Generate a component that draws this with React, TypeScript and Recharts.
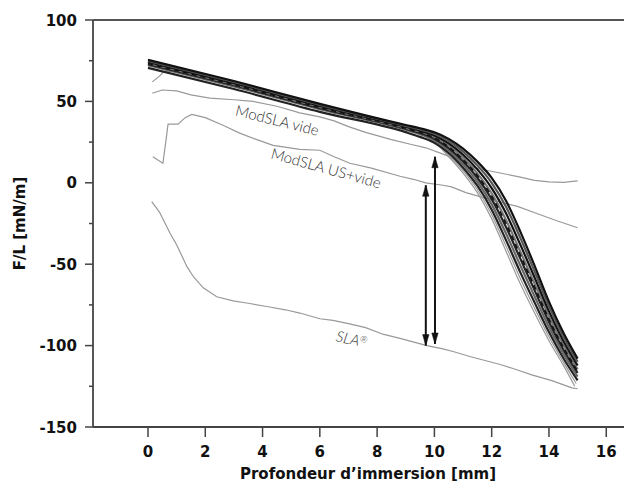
import React from 'react';
import { ComposedChart, Line, Scatter, XAxis, YAxis, ReferenceLine } from 'recharts';

type P = [number, number];
const pts = (a: P[]) => a.map(([x, y]) => ({ x, y }));

const xTicks = [0, 2, 4, 6, 8, 10, 12, 14, 16];
const yTicks = [-150, -125, -100, -75, -50, -25, 0, 25, 50, 75, 100];

const modSlaVide: P[] = [
  [0.15, 55], [0.5, 57], [1, 56.5], [1.5, 54], [2.16, 52], [3, 51], [3.67, 50], [4.5, 47], [5.3, 43],
  [6, 40.5], [6.5, 38], [7, 34.5], [7.6, 31], [8.5, 26.5], [9.2, 23.5], [9.7, 21.5], [10.4, 17],
  [11.1, 11], [11.7, 8], [12.3, 6], [13, 3.5], [13.5, 1.5], [14, 0.6], [14.5, 0.3], [15, 1.2],
];
const modSlaUsVide: P[] = [
  [0.17, 16], [0.52, 12], [0.62, 25], [0.7, 36], [1.05, 36], [1.3, 40], [1.53, 42], [2, 40],
  [2.6, 35.5], [3.2, 30.5], [3.8, 26.5], [4.37, 23], [5.3, 20.5], [6, 20], [6.5, 16], [7.05, 12],
  [7.8, 9], [8.8, 4], [9.3, 2], [9.7, 0], [10.3, -1.5], [10.6, -2.5], [11.1, -6], [12, -10.5],
  [12.9, -14.5], [13.6, -19], [14.3, -23.5], [15, -27.6],
];
const sla: P[] = [
  [0.13, -11.5], [0.4, -18], [0.77, -31], [1.0, -38], [1.36, -51.5], [1.6, -58], [1.93, -64.5],
  [2.4, -70], [2.97, -72.5], [3.5, -74], [4.15, -76], [4.8, -78], [5.3, -80], [6, -83.5],
  [6.46, -84.5], [7, -86.5], [7.6, -89], [8.2, -93], [8.8, -95.6], [9.74, -100], [10.3, -102],
  [10.65, -103.6], [11.3, -107], [12.3, -111.6], [12.9, -115], [13.4, -118], [14.1, -121.5],
  [14.8, -126], [15, -126.5],
];

const bundleA: P[] = [[0, 75.5], [3, 62.5], [6, 48.5], [9, 35.5], [9.5, 33.5], [10, 31], [10.5, 27], [11, 21], [11.5, 13], [12, 3], [12.5, -11], [13, -30], [13.5, -51], [14, -73], [14.5, -92], [15, -108]];
const bundleB: P[] = [[0, 74.9], [3, 61.9], [6, 47.9], [9, 35], [9.5, 32.8], [10, 30.1], [10.5, 25.7], [11, 19.2], [11.5, 10.7], [12, 0], [12.5, -14.7], [13, -33.8], [13.5, -54.5], [14, -75.9], [14.5, -94.4], [15, -110]];
const bundleC: P[] = [[0, 74.25], [3, 61.25], [6, 47.25], [9, 34.4], [9.5, 32.1], [10, 29.1], [10.5, 24.25], [11, 17.25], [11.5, 8.25], [12, -3.25], [12.5, -18.75], [13, -38], [13.5, -58.25], [14, -79], [14.5, -97], [15, -112.25]];
const bundleD: P[] = [[0, 73.6], [3, 60.6], [6, 46.6], [9, 33.8], [9.5, 31.4], [10, 28.2], [10.5, 22.8], [11, 15.3], [11.5, 5.8], [12, -6.5], [12.5, -22.8], [13, -42.2], [13.5, -62], [14, -82.1], [14.5, -99.6], [15, -114.5]];
const bundleE: P[] = [[0, 72.9], [3, 59.9], [6, 45.9], [9, 33.2], [9.5, 30.6], [10, 27.1], [10.5, 21.3], [11, 13.2], [11.5, 3.1], [12, -10], [12.5, -27.1], [13, -46.6], [13.5, -66.1], [14, -85.5], [14.5, -102.4], [15, -116.8]];
const bundleF: P[] = [[0, 72.25], [3, 59.25], [6, 45.25], [9, 32.6], [9.5, 29.9], [10, 26.1], [10.5, 19.9], [11, 11.25], [11.5, 0.65], [12, -13.25], [12.5, -31.15], [13, -50.8], [13.5, -69.85], [14, -88.6], [14.5, -105], [15, -119]];
const bundleG: P[] = [[0, 70.6], [3, 57.6], [6, 43.6], [9, 31.1], [9.5, 28.2], [10, 24.6], [10.5, 18.4], [11, 9.3], [11.5, -1.8], [12, -16.5], [12.5, -35.2], [13, -55], [13.5, -73.6], [14, -91.7], [14.5, -107.6], [15, -121.3]];
const bundleH: P[] = [[0.15, 62], [0.4, 65.5], [0.6, 68.6], [3, 59.5], [6, 45.5], [9, 32.8], [9.5, 30.2], [10, 25], [10.5, 17.1], [11, 7.5], [11.5, -4.1], [12, -19.5], [12.5, -38.9], [13, -58.8], [13.5, -77.1], [14, -94.6], [14.5, -110], [14.95, -123.3]];
const bundleI: P[] = [[0, 72.75], [3, 59.75], [6, 45.75], [9, 33], [9.5, 30.5], [10, 25], [10.5, 16], [11, 6], [11.5, -6], [12, -22], [12.5, -42], [13, -62], [13.5, -80], [14, -97], [14.5, -112], [14.9, -125]];
const bundleDashed: P[] = [[0, 73.25], [3, 60.25], [6, 46.25], [9, 33.5], [9.5, 31], [10, 27.6], [10.5, 22], [11, 14.25], [11.5, 4.45], [12, -8.25], [12.5, -25], [13, -44.4], [13.5, -64], [14, -83.8], [14.5, -101], [15, -115.65]];

const arrowUs: P[] = [[9.7, -100], [9.7, -1.5]];
const arrowVide: P[] = [[10.02, -99], [10.02, 16]];

const annText = ['ModSLA vide', 'ModSLA US+vide', 'SLA'];
const annX = [4.5, 6.2, 7.1];
const annY = [37.4, 8, -97];
const annAngle = [14, 15.5, 12];

const annData = annText.map((t, i) => ({ x: annX[i], y: annY[i], t, a: annAngle[i], i }));

const TICK_FONT = '"DejaVu Sans", sans-serif';

const YTick = (props: any) => {
  const { x, y, payload } = props;
  const major = payload.value % 50 === 0;
  return (
    <g>
      <line x1={x - (major ? 8 : 4)} x2={x} y1={y} y2={y} stroke="#444" strokeWidth={1.5} />
      {major && (
        <text x={x - 16} y={y} dy={5.5} textAnchor="end" fontFamily={TICK_FONT} fontWeight="bold" fontSize={15} fill="#111">
          {payload.value}
        </text>
      )}
    </g>
  );
};

const XTick = (props: any) => {
  const { x, y, payload } = props;
  return (
    <g>
      <line x1={x} x2={x} y1={y} y2={y + 10} stroke="#444" strokeWidth={1.5} />
      <text x={x} y={y + 30} textAnchor="middle" fontFamily={TICK_FONT} fontWeight="bold" fontSize={15} fill="#111">
        {payload.value}
      </text>
    </g>
  );
};

const arrowDot = (props: any) => {
  const { cx, cy, index } = props;
  if (cx == null || cy == null) return <g key={index} />;
  const dir = index === 0 ? -1 : 1;
  const len = 11;
  const hw = 3.2;
  const d = `M${cx},${cy} L${cx - hw},${cy + dir * len} L${cx + hw},${cy + dir * len} Z`;
  return <path key={index} d={d} fill="#111" stroke="#111" strokeWidth={0.5} />;
};

const annShape = (props: any) => {
  const { cx, cy, payload } = props;
  const isSla = payload.i === 2;
  return (
    <text
      x={cx}
      y={cy}
      textAnchor="middle"
      dominantBaseline="middle"
      transform={`rotate(${payload.a} ${cx} ${cy})`}
      fontFamily='Lato, "Noto Sans", sans-serif'
      fontWeight={300}
      fontStyle={isSla ? 'italic' : 'normal'}
      fontSize={15}
      fill="#333"
    >
      {payload.t}
      {isSla && (
        <tspan fontSize={9} dy={-3}>
          ®
        </tspan>
      )}
    </text>
  );
};

const darkW = 2.2;
const grayW = 1.2;

export default function App() {
  return (
    <div style={{ position: 'absolute', left: 0, top: 0, width: 624, height: 488, background: '#fff' }}>
      <ComposedChart width={624} height={488} margin={{ top: 20, right: 0, bottom: 0, left: 0 }}>
        <XAxis
          type="number"
          dataKey="x"
          domain={[-1.92, 16.62]}
          ticks={xTicks}
          allowDataOverflow
          height={61}
          tickSize={0}
          tickMargin={0}
          tick={<XTick />}
          axisLine={{ stroke: '#444', strokeWidth: 1.8 }}
          tickLine={false}
          interval={0}
          label={{
            content: () => (
              <text x={368} y={479} textAnchor="middle" fontFamily={TICK_FONT} fontWeight="bold" fontSize={15} fill="#111">
                Profondeur d’immersion [mm]
              </text>
            ),
          }}
        />
        <YAxis
          type="number"
          dataKey="y"
          domain={[-150, 100]}
          ticks={yTicks}
          allowDataOverflow
          width={93}
          tickSize={0}
          tickMargin={0}
          tick={<YTick />}
          axisLine={{ stroke: '#444', strokeWidth: 1.8 }}
          tickLine={false}
          interval={0}
          label={{
            content: () => (
              <text
                x={24.5}
                y={223.5}
                textAnchor="middle"
                transform="rotate(-90 24.5 223.5)"
                fontFamily={TICK_FONT}
                fontWeight="bold"
                fontSize={15}
                fill="#111"
              >
                F/L [mN/m]
              </text>
            ),
          }}
        />
        <ReferenceLine y={100} stroke="#555" strokeWidth={1.8} />

        <Line data={pts(modSlaVide)} dataKey="y" type="linear" stroke="#999" strokeWidth={grayW} dot={false} isAnimationActive={false} />
        <Line data={pts(modSlaUsVide)} dataKey="y" type="linear" stroke="#999" strokeWidth={grayW} dot={false} isAnimationActive={false} />
        <Line data={pts(sla)} dataKey="y" type="linear" stroke="#999" strokeWidth={grayW} dot={false} isAnimationActive={false} />

        <Line data={pts(bundleI)} dataKey="y" type="monotone" stroke="#999" strokeWidth={grayW} dot={false} isAnimationActive={false} />
        <Line data={pts(bundleH)} dataKey="y" type="monotone" stroke="#999" strokeWidth={grayW} dot={false} isAnimationActive={false} />
        <Line data={pts(bundleG)} dataKey="y" type="monotone" stroke="#222" strokeWidth={darkW} dot={false} isAnimationActive={false} />
        <Line data={pts(bundleF)} dataKey="y" type="monotone" stroke="#666" strokeWidth={darkW} dot={false} isAnimationActive={false} />
        <Line data={pts(bundleE)} dataKey="y" type="monotone" stroke="#222" strokeWidth={darkW} dot={false} isAnimationActive={false} />
        <Line data={pts(bundleD)} dataKey="y" type="monotone" stroke="#777" strokeWidth={darkW} dot={false} isAnimationActive={false} />
        <Line data={pts(bundleC)} dataKey="y" type="monotone" stroke="#111" strokeWidth={darkW} dot={false} isAnimationActive={false} />
        <Line data={pts(bundleB)} dataKey="y" type="monotone" stroke="#555" strokeWidth={darkW} dot={false} isAnimationActive={false} />
        <Line data={pts(bundleA)} dataKey="y" type="monotone" stroke="#111" strokeWidth={darkW} dot={false} isAnimationActive={false} />
        <Line data={pts(bundleDashed)} dataKey="y" type="monotone" stroke="#111" strokeWidth={1.6} strokeDasharray="5 4" dot={false} isAnimationActive={false} />

        <Line data={pts(arrowUs)} dataKey="y" type="linear" stroke="#111" strokeWidth={2} dot={arrowDot} isAnimationActive={false} />
        <Line data={pts(arrowVide)} dataKey="y" type="linear" stroke="#111" strokeWidth={2} dot={arrowDot} isAnimationActive={false} />

        <Scatter data={annData} dataKey="y" shape={annShape} isAnimationActive={false} />
      </ComposedChart>
    </div>
  );
}
